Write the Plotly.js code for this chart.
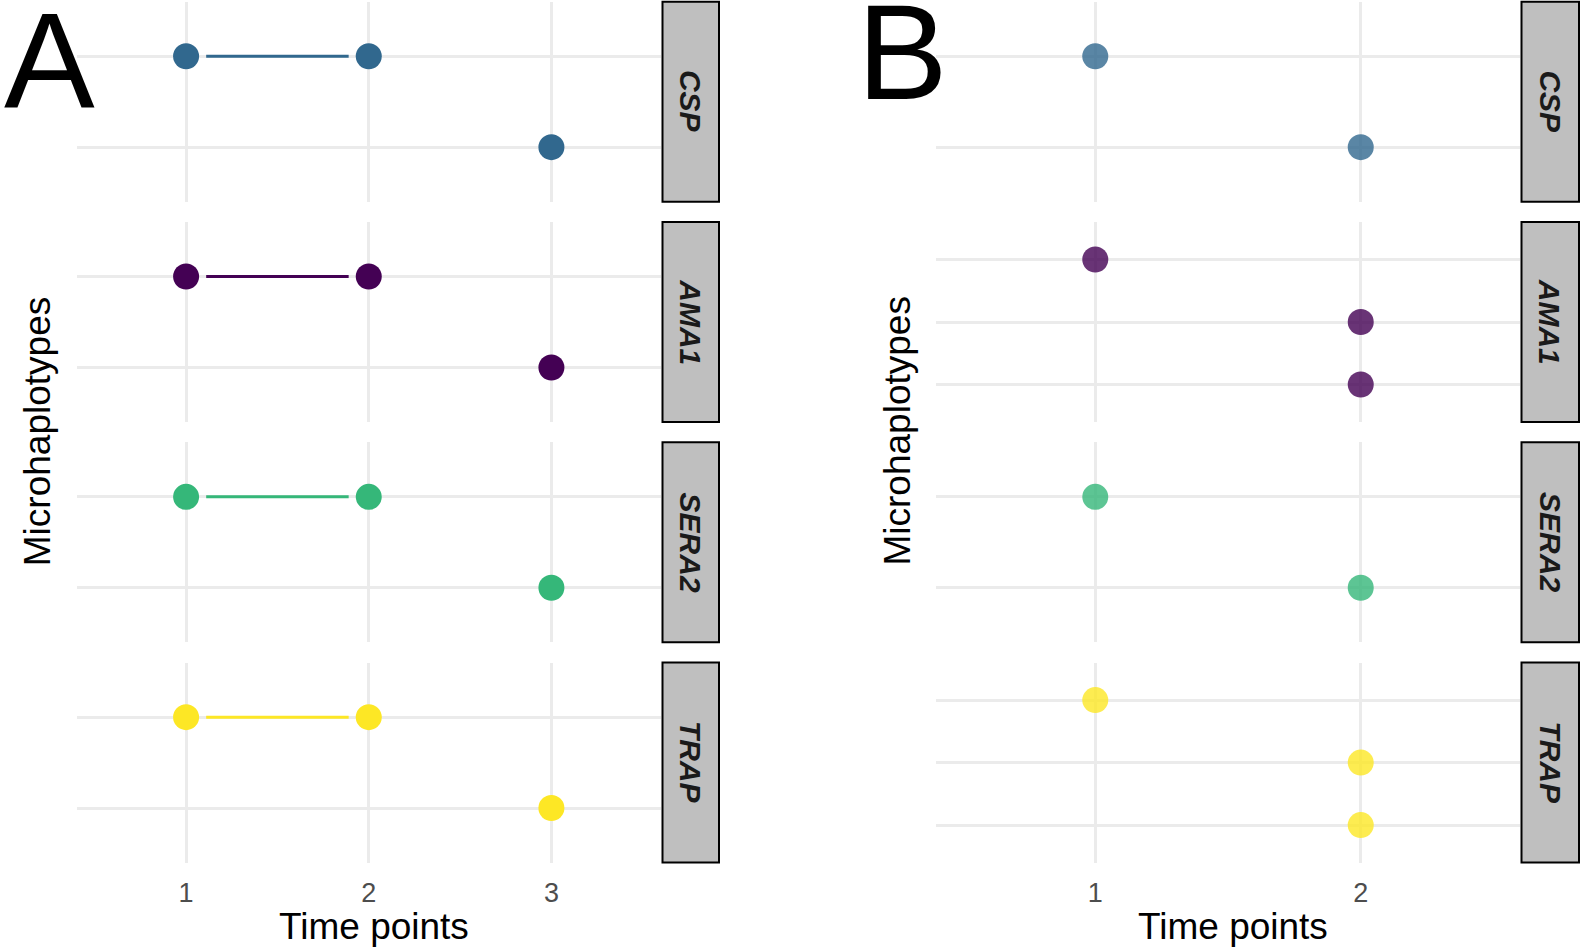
<!DOCTYPE html>
<html>
<head>
<meta charset="utf-8">
<script src="https://cdn.plot.ly/plotly-3.0.1.min.js"></script>
<style>html,body{margin:0;padding:0;background:#fff;}#chart{width:1581px;height:949px;}</style>
</head>
<body>
<div id="chart"></div>
<script>
// ---------- data ----------
const genes = ['CSP', 'AMA1', 'SERA2', 'TRAP'];
const geneColors = ['#31688E', '#440154', '#35B779', '#FDE725'];

// Panel A
const aTimeLevels = [1, 2, 3];
const aGene = ['CSP','CSP','CSP','AMA1','AMA1','AMA1','SERA2','SERA2','SERA2','TRAP','TRAP','TRAP'];
const aHap  = [1, 1, 2, 1, 1, 2, 1, 1, 2, 1, 1, 2];
const aTime = [1, 2, 3, 1, 2, 3, 1, 2, 3, 1, 2, 3];

// Panel B
const bTimeLevels = [1, 2];
const bGene = ['CSP','CSP','AMA1','AMA1','AMA1','SERA2','SERA2','TRAP','TRAP','TRAP'];
const bHap  = [1, 2, 1, 2, 3, 1, 2, 1, 2, 3];
const bTime = [1, 2, 1, 2, 2, 1, 2, 1, 2, 2];

const panelLabels = ['A', 'B'];
const xTitle = 'Time points';
const yTitle = 'Microhaplotypes';

// ---------- layout geometry (pixels) ----------
const W = 1581, H = 949;
const panels = [
  {tag: 'A', gene: aGene, hap: aHap, time: aTime, levels: aTimeLevels, opacity: 1, lines: true,
   x0: 76.5, x1: 661, s0: 662.5, s1: 719, tagX: 2, tagBase: 107, yTitleX: 37.7, xTitleX: 374},
  {tag: 'B', gene: bGene, hap: bHap, time: bTime, levels: bTimeLevels, opacity: 0.8, lines: false,
   x0: 936, x1: 1520, s0: 1521.5, s1: 1579, tagX: 855, tagBase: 99, yTitleX: 897, xTitleX: 1233}
];
const facetTop0 = 1.7, facetStep = 220.3, facetH = 200;
const px = v => v / W;
const py = v => 1 - v / H;

const gridCol = '#ebebeb';
const traces = [];
const layout = {
  width: W, height: H,
  margin: {l: 0, r: 0, t: 0, b: 0},
  paper_bgcolor: '#ffffff', plot_bgcolor: '#ffffff',
  showlegend: false, hovermode: false,
  font: {family: 'Liberation Sans, Arial, sans-serif', color: '#000'},
  shapes: [], annotations: []
};

panels.forEach((P, p) => {
  genes.forEach((g, i) => {
    const k = p * 4 + i + 1;
    const xa = 'x' + (k === 1 ? '' : k), ya = 'y' + (k === 1 ? '' : k);
    const xk = 'xaxis' + (k === 1 ? '' : k), yk = 'yaxis' + (k === 1 ? '' : k);
    const idx = P.gene.map((v, j) => v === g ? j : -1).filter(j => j >= 0);
    const haps = idx.map(j => P.hap[j]);
    const times = idx.map(j => P.time[j]);
    const nHap = Math.max(...haps);
    const color = geneColors[i];

    // connecting lines (same haplotype seen at several time points)
    if (P.lines) {
      const gap = 0.11;
      [...new Set(haps)].forEach(h => {
        const ts = idx.filter(j => P.hap[j] === h).map(j => P.time[j]);
        if (ts.length > 1) {
          const lo = Math.min(...ts), hi = Math.max(...ts);
          traces.push({type: 'scatter', mode: 'lines', x: [lo + gap, hi - gap], y: [h, h],
            xaxis: xa, yaxis: ya, line: {color: color, width: 3}, hoverinfo: 'skip'});
        }
      });
    }
    traces.push({type: 'scatter', mode: 'markers', x: times, y: haps, xaxis: xa, yaxis: ya,
      marker: {color: color, size: 26, opacity: P.opacity, line: {width: 0}}, hoverinfo: 'skip'});

    const top = facetTop0 + i * facetStep, bot = top + facetH;
    const nT = P.levels.length;
    layout[xk] = {
      domain: [px(P.x0), px(P.x1)], anchor: ya,
      range: [0.4, nT + 0.6], tickvals: P.levels, ticktext: P.levels.map(String),
      showgrid: true, gridcolor: gridCol, gridwidth: 3, zeroline: false, showline: false,
      ticks: '', showticklabels: i === 3, ticklabelstandoff: 11,
      tickfont: {size: 27, color: '#4d4d4d', family: 'Liberation Sans, Arial, sans-serif'},
      fixedrange: true
    };
    layout[yk] = {
      domain: [py(bot), py(top)], anchor: xa,
      range: [nHap + 0.6, 0.4], tickvals: Array.from({length: nHap}, (_, r) => r + 1),
      showgrid: true, gridcolor: gridCol, gridwidth: 3, zeroline: false, showline: false,
      ticks: '', showticklabels: false, fixedrange: true
    };

    // facet strip
    layout.shapes.push({type: 'rect', xref: 'paper', yref: 'paper',
      x0: px(P.s0), x1: px(P.s1), y0: py(bot), y1: py(top),
      fillcolor: '#bfbfbf', line: {color: '#000', width: 2}, layer: 'above'});
    layout.annotations.push({xref: 'paper', yref: 'paper', x: px((P.s0 + P.s1) / 2), y: py((top + bot) / 2),
      text: '<b><i>' + g + '</i></b>', showarrow: false, textangle: 90,
      xanchor: 'center', yanchor: 'middle',
      font: {size: 30, color: '#1a1a1a', family: 'Liberation Sans, Arial, sans-serif'}});
  });

  // axis titles
  layout.annotations.push({xref: 'paper', yref: 'paper', x: px(P.xTitleX), y: py(926.5),
    text: xTitle, showarrow: false, xanchor: 'center', yanchor: 'middle',
    font: {size: 37, color: '#000'}});
  layout.annotations.push({xref: 'paper', yref: 'paper', x: px(P.yTitleX), y: py(431.5),
    text: yTitle, showarrow: false, textangle: -90, xanchor: 'center', yanchor: 'middle',
    font: {size: 37, color: '#000'}});
  // panel tag
  layout.annotations.push({xref: 'paper', yref: 'paper', x: px(P.tagX), y: py(P.tagBase - 0.3465 * 136),
    text: panelLabels[p], showarrow: false, xanchor: 'left', yanchor: 'middle',
    font: {size: 136, color: '#000'}});
});

Plotly.newPlot('chart', traces, layout, {staticPlot: true, displayModeBar: false});
</script>
</body>
</html>
